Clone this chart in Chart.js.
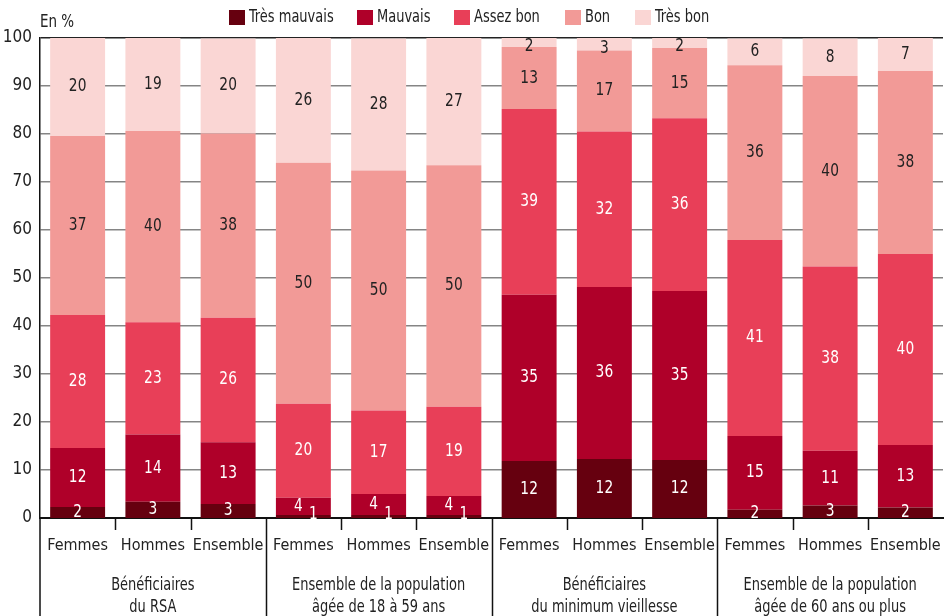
<!DOCTYPE html>
<html lang="fr">
<head>
<meta charset="utf-8">
<script src="https://cdn.jsdelivr.net/npm/chart.js@4.4.1/dist/chart.umd.min.js"></script>
<style>
  body { margin: 0; background: #fff; }
  #wrap { width: 944px; height: 616px; position: relative; }
</style>
</head>
<body>
<div id="wrap"><canvas id="chart"></canvas></div>
<script>
// categories and groups
const categories = ['Femmes', 'Hommes', 'Ensemble', 'Femmes', 'Hommes', 'Ensemble',
                    'Femmes', 'Hommes', 'Ensemble', 'Femmes', 'Hommes', 'Ensemble'];
const groups = [
  ['Bénéficiaires', 'du RSA'],
  ['Ensemble de la population', 'âgée de 18 à 59 ans'],
  ['Bénéficiaires', 'du minimum vieillesse'],
  ['Ensemble de la population', 'âgée de 60 ans ou plus']
];
const seriesNames = ['Très mauvais', 'Mauvais', 'Assez bon', 'Bon', 'Très bon'];
const seriesColors = ['#66000f', '#af0029', '#e83f58', '#f29a97', '#fad6d4'];

// values in %
const tresMauvais = [2.3, 3.4, 2.9, 0.6, 0.6, 0.6, 11.9, 12.3, 12.1, 1.7, 2.6, 2.2];
const mauvais     = [12.3, 14.0, 12.9, 3.6, 4.4, 4.0, 34.6, 35.8, 35.2, 15.4, 11.4, 13.0];
const assezBon    = [27.7, 23.4, 25.9, 19.6, 17.4, 18.6, 38.7, 32.4, 36.0, 40.8, 38.4, 39.8];
const bon         = [37.3, 39.8, 38.4, 50.2, 50.0, 50.3, 12.9, 16.9, 14.6, 36.4, 39.7, 38.1];
const tresBon     = [20.4, 19.4, 19.8, 26.0, 27.5, 26.5, 1.9, 2.6, 2.1, 5.6, 7.8, 6.9];
const yTicks = [0, 10, 20, 30, 40, 50, 60, 70, 80, 90, 100];

const FONT = '"DejaVu Sans Condensed", "Roboto", sans-serif';
const TXT = '#222';

const allSeries = [tresMauvais, mauvais, assezBon, bon, tresBon];
const datasets = allSeries.map((vals, i) => ({
  label: seriesNames[i],
  data: vals,
  backgroundColor: seriesColors[i],
  borderWidth: 0,
  categoryPercentage: 1,
  barPercentage: 0.73
}));

// the original font is narrower, squeeze the text a bit
function narrowText(ctx, text, x, y, sx) {
  ctx.save();
  ctx.translate(x, y);
  ctx.scale(sx, 1);
  ctx.fillText(text, 0, 0);
  ctx.restore();
}

// value labels inside the segments
const valueLabels = {
  id: 'valueLabels',
  afterDatasetsDraw(chart) {
    const ctx = chart.ctx;
    ctx.save();
    ctx.font = '17px ' + FONT;
    ctx.textAlign = 'center';
    ctx.textBaseline = 'middle';
    chart.data.datasets.forEach((ds, di) => {
      const meta = chart.getDatasetMeta(di);
      ctx.fillStyle = di < 3 ? '#fff' : TXT;
      meta.data.forEach((bar, i) => {
        const v = ds.data[i];
        let x = bar.x;
        let y = (bar.y + bar.base) / 2;
        if (di === 0 && v < 1.5) { x += 10; y = bar.base - 3; }
        if (di === 1 && tresMauvais[i] < 1.5) { x -= 5; }
        if (di === 4 && v < 3) { y += 4; }
        narrowText(ctx, String(Math.round(v)), x, y, 0.9);
      });
    });
    ctx.restore();
  }
};

// legend, unit, tick marks and group labels
const decorations = {
  id: 'decorations',
  afterDraw(chart) {
    const ctx = chart.ctx;
    const area = chart.chartArea;
    const H = chart.height;
    ctx.save();

    // legend
    const legX = [229, 357, 454, 565, 635];
    ctx.font = '17px ' + FONT;
    ctx.textBaseline = 'middle';
    ctx.textAlign = 'left';
    seriesNames.forEach((name, i) => {
      ctx.fillStyle = seriesColors[i];
      ctx.fillRect(legX[i], 10, 16, 15);
      ctx.fillStyle = TXT;
      narrowText(ctx, name, legX[i] + 20, 18, 0.85);
    });

    // unit
    narrowText(ctx, 'En %', 40, 23, 0.88);

    // tick marks and separators
    const step = (area.right - area.left) / categories.length;
    ctx.strokeStyle = '#111';
    ctx.lineWidth = 1.5;
    ctx.beginPath();
    ctx.moveTo(area.left, area.bottom);
    ctx.lineTo(area.left, H);
    for (let k = 1; k < categories.length; k++) {
      const x = Math.round(area.left + k * step) + 0.5;
      ctx.moveTo(x, area.bottom);
      ctx.lineTo(x, k % 3 === 0 ? H : area.bottom + 12);
    }
    ctx.stroke();

    // group labels
    ctx.textAlign = 'center';
    ctx.fillStyle = TXT;
    groups.forEach((lines, g) => {
      const cx = area.left + (g * 3 + 1.5) * step;
      lines.forEach((t, li) => narrowText(ctx, t, cx, 586 + li * 22, 0.85));
    });
    ctx.restore();
  }
};

new Chart(document.getElementById('chart'), {
  type: 'bar',
  data: { labels: categories, datasets: datasets },
  options: {
    responsive: true,
    maintainAspectRatio: false,
    animation: false,
    layout: { padding: { top: 38, right: 1, left: 0, bottom: 0 } },
    plugins: {
      legend: { display: false },
      tooltip: { enabled: false }
    },
    scales: {
      x: {
        stacked: true,
        grid: { display: false, drawTicks: false },
        border: { color: '#111', width: 2 },
        ticks: {
          color: TXT,
          font: { family: FONT, size: 16 },
          padding: 18,
          maxRotation: 0,
          autoSkip: false
        },
        afterFit(scale) {
          scale.height = 98;
          scale.paddingLeft = 0;
          scale.paddingRight = 0;
        }
      },
      y: {
        stacked: true,
        min: 0,
        max: 100,
        afterBuildTicks(scale) { scale.ticks = yTicks.map(v => ({ value: v })); },
        grid: {
          color: ctx => ctx.tick && ctx.tick.value === 100 ? '#222' : '#858585',
          lineWidth: ctx => ctx.tick && ctx.tick.value === 0 ? 0 : 1.5,
          drawTicks: false
        },
        border: { color: '#111', width: 1.5 },
        ticks: {
          color: TXT,
          font: { family: FONT, size: 17 },
          padding: 8
        },
        afterFit(scale) { scale.width = 40; }
      }
    }
  },
  plugins: [valueLabels, decorations]
});
</script>
</body>
</html>
